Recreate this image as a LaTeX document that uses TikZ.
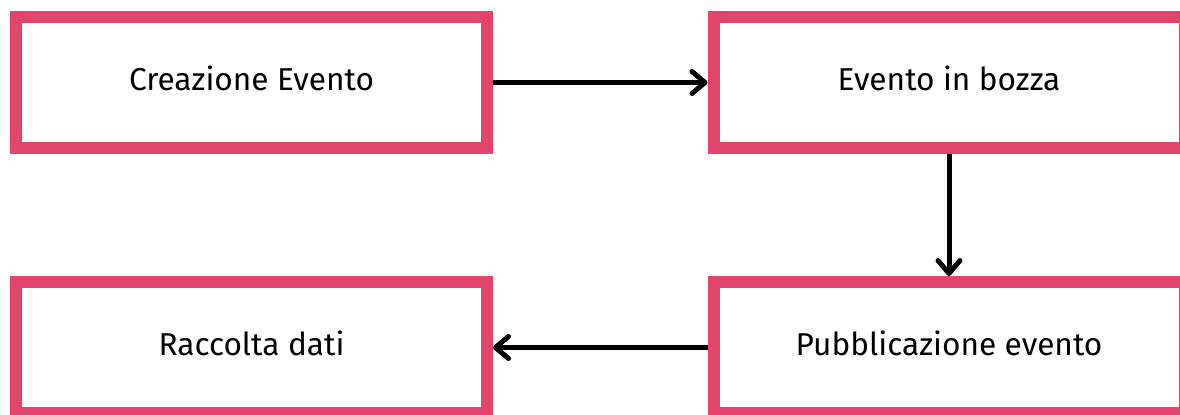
\documentclass[tikz,border=0pt]{standalone}
\usepackage{fontspec}
\setmainfont{Fira Sans}
\usepackage{tikz}
\usetikzlibrary{arrows.meta}
\definecolor{eventred}{HTML}{E2456B}

\begin{document}
\begin{tikzpicture}[
  box/.style={draw=eventred, fill=white, line width=0.24cm, minimum width=9.42cm, minimum height=2.62cm, text depth=0.16cm, align=center, font=\fontsize{18}{22}\selectfont},
  arr/.style={-{Straight Barb[length=0.26cm, width=0.44cm, line cap=round, round]}, line width=0.1cm, black},
]
\useasboundingbox (0,0) rectangle (23.6,-8.28);

% ── Top row ──
\node[box] (create) at (5.03, -1.65) {Creazione Evento};
\node[box] (draft) at (18.98, -1.65) {Evento in bozza};

% ── Bottom row ──
\node[box] (collect) at (5.03, -6.95) {Raccolta dati};
\node[box] (publish) at (18.98, -6.95) {Pubblicazione evento};

% ── Arrows ──
\draw[arr] (create.east) -- (draft.west);
\draw[arr] (draft.south) -- (publish.north);
\draw[arr] (publish.west) -- (collect.east);

\end{tikzpicture}
\end{document}
